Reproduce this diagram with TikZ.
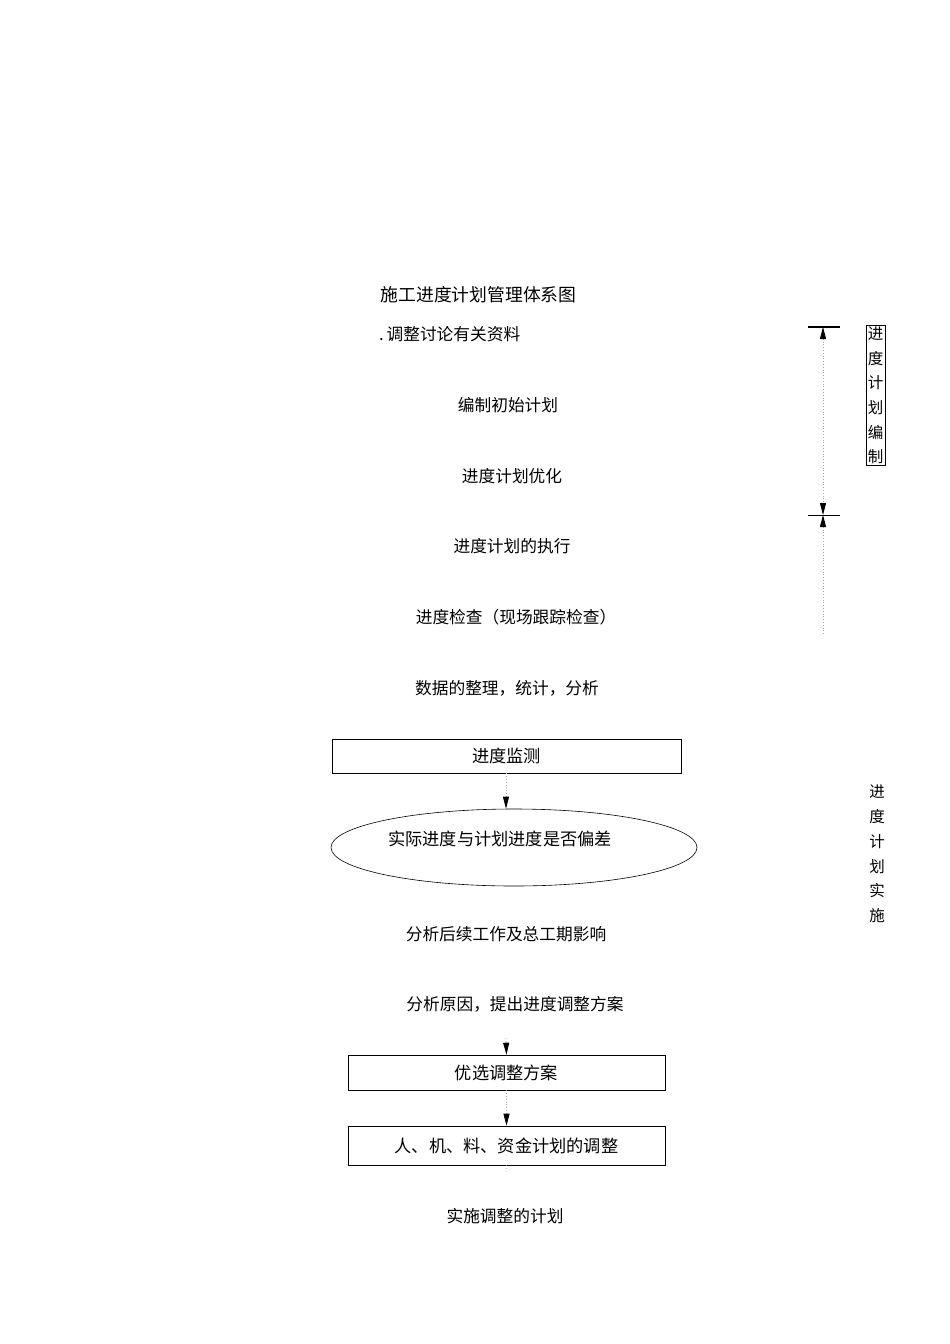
\documentclass[tikz,border=0pt]{standalone}
\usepackage{fontspec}
\setmainfont{Noto Sans CJK SC}
\usetikzlibrary{shapes.geometric,arrows.meta}
\begin{document}
\begin{tikzpicture}[x=1pt,y=-1pt,
  txt/.style={font=\fontsize{16.7}{20}\selectfont, inner sep=0pt, anchor=center},
  boxed/.style={draw=black, line width=0.6pt, inner sep=0pt, font=\fontsize{17.2}{20}\selectfont},
  tip/.style={Triangle[length=12pt,width=6pt,fill=black,color=black]},
  conn/.style={draw=gray!70, dotted, line width=0.8pt, -{Triangle[length=12pt,width=6pt,fill=black,color=black]}},
  bar/.style={draw=black, line width=1pt}]
\useasboundingbox (0,0) rectangle (950,1344);
\fill[white] (0,0) rectangle (950,1344);
% left column texts
\node[txt, font=\fontsize{17.8}{20}\selectfont] (title) at (478.5,295) {施工进度计划管理体系图};
\node[txt, anchor=west] (t1) at (379,334) {.\,调整讨论有关资料};
\node[txt] (t2) at (508,405) {编制初始计划};
\node[txt] (t3) at (512,476) {进度计划优化};
\node[txt] (t4) at (512,546) {进度计划的执行};
\node[txt] (t5) at (516,617) {进度检查（现场跟踪检查）};
\node[txt] (t6) at (507,688) {数据的整理，统计，分析};
% boxes
\node[boxed, minimum width=349pt, minimum height=34pt] (b1) at (506.5,756) {进度监测};
\draw[line width=1.6pt] (b1.north east) -- (b1.south east);
\node[boxed, ellipse, minimum width=366pt, minimum height=77pt] (e1) at (514,847.5) {};
\node[boxed, draw=none] (e1t) at (500,839) {实际进度与计划进度是否偏差};
\node[txt] (t7) at (506,934) {分析后续工作及总工期影响};
\node[txt] (t8) at (515,1004) {分析原因，提出进度调整方案};
\node[boxed, minimum width=317pt, minimum height=35pt] (b2) at (506.5,1072.5) {优选调整方案};
\node[boxed, minimum width=317pt, minimum height=39pt] (b3) at (506.5,1145.5) {人、机、料、资金计划的调整};
\draw[line width=1.6pt] (b3.south west) -- (b3.south east);
\node[txt] (t9) at (505,1216) {实施调整的计划};
% connectors
\coordinate (c1) at (506,1038);
\coordinate (c2) at (506,1172);
\draw[conn] (b1.south -| 506,0) -- (e1.north -| 506,0);
\draw[conn] (c1) -- (b2.north);
\draw[conn] (b2.south) -- (b3.north);
\draw[draw=gray!70, dotted, line width=0.8pt] (b3.south) -- (c2);
% right dimension
\coordinate (dtop) at (823,327);
\coordinate (dmid) at (823,515);
\coordinate (dbot) at (823,635);
\draw[bar, line width=1.6pt] (808,327) -- (840,327);
\draw[bar] (808,515) -- (840,515);
\draw[draw=gray!70, dotted, line width=0.8pt, {Triangle[length=12pt,width=6pt,fill=black,color=black]}-{Triangle[length=12pt,width=6pt,fill=black,color=black]}] (dtop) -- (dmid);
\draw[draw=gray!70, dotted, line width=0.8pt, {Triangle[length=12pt,width=6pt,fill=black,color=black]}-] (dmid) -- (dbot);
\node[draw=black, line width=0.5pt, inner sep=1.5pt, font=\fontsize{15.5}{24.6}\selectfont, align=center, text width=16pt] (v1) at (875.5,395.5) {进\\度\\计\\划\\编\\制};
\node[font=\fontsize{15.5}{24.8}\selectfont, align=center, inner sep=0pt] (v2) at (877,854) {进\\度\\计\\划\\实\\施};
\end{tikzpicture}
\end{document}
